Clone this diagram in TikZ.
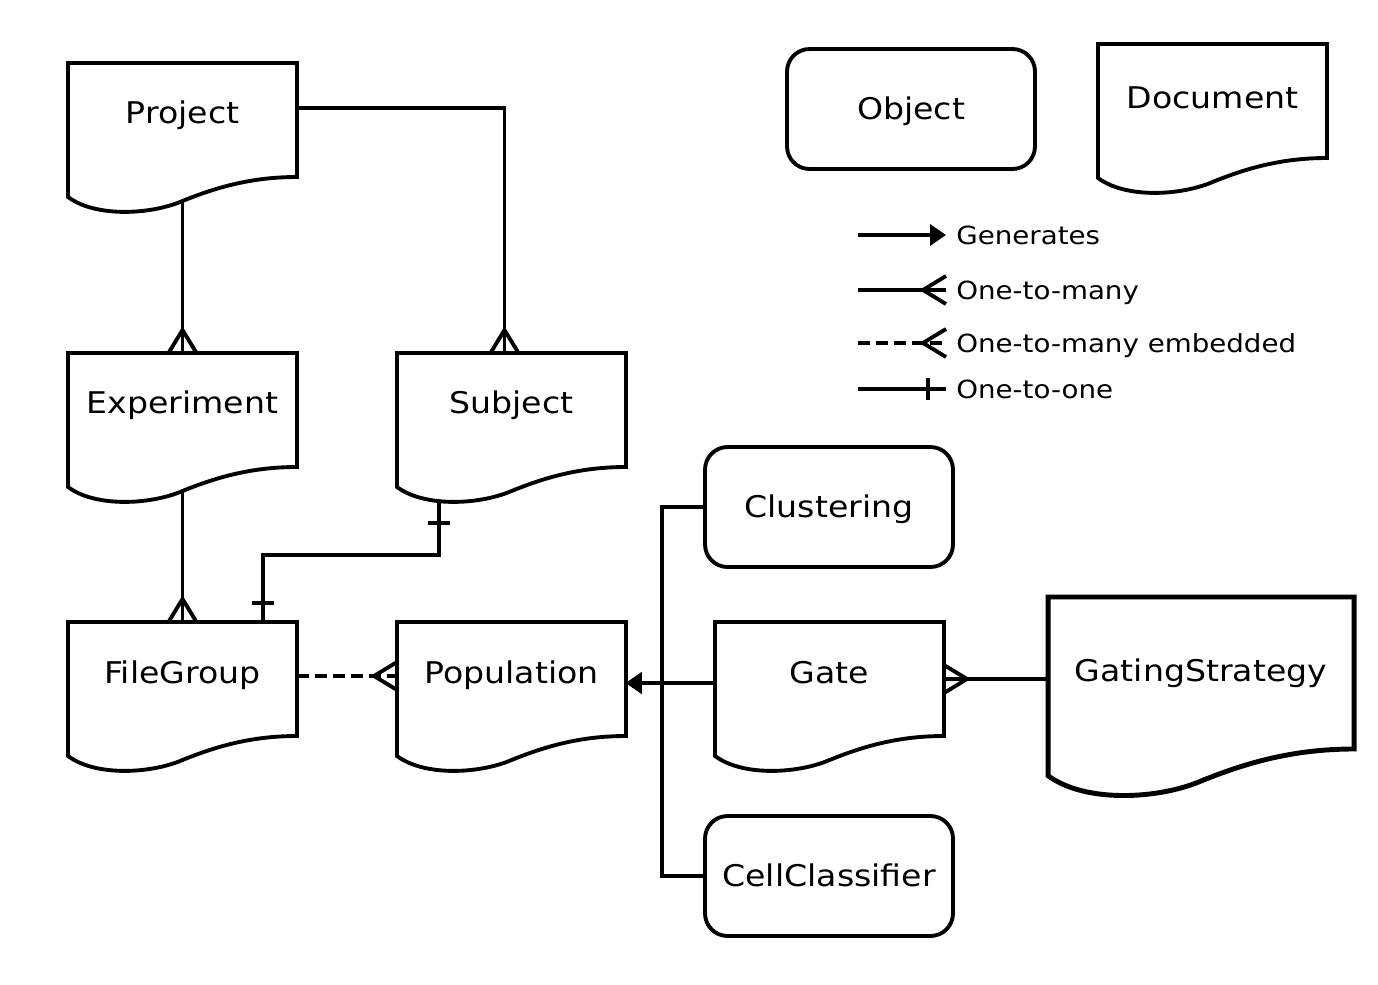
\documentclass[tikz,border=0pt]{standalone}
\usepackage{fontspec}
\setmainfont[FakeStretch=1.11]{DejaVu Sans}
\usetikzlibrary{arrows.meta}
\usetikzlibrary{decorations.markings}

\tikzset{
  box/.style={line width=2.2pt},
  doc/.style={anchor=north, inner sep=0pt, outer sep=0pt, minimum width=4.58cm,
    text height=1.22cm, text depth=1.54cm, font=\fontsize{17}{20}\selectfont},
  bigdoc/.style={doc, minimum width=6.12cm, text height=1.70cm, text depth=1.98cm},
  obj/.style={draw, line width=2.2pt, rounded corners=0.45cm, minimum width=4.96cm,
    minimum height=2.4cm, text height=0.43cm, text depth=0pt, inner sep=0pt,
    font=\fontsize{17}{20}\selectfont},
  keytext/.style={anchor=west, inner xsep=0.2cm, inner ysep=0pt, text height=0.36cm,
    text depth=0pt, font=\fontsize{14.2}{17}\selectfont},
  link/.style={line width=2.2pt},
  gen/.style={link, -{Triangle[length=0.32cm, width=0.42cm]}},
  many/.style={link, postaction={decorate, decoration={markings,
    mark=at position 1 with {\draw[solid, line width=2.2pt] (-23,0) -- (0,14) (-23,0) -- (0,-14);}}}},
  embed/.style={many, dash pattern=on 0.24cm off 0.12cm},
  one/.style={link, postaction={decorate, decoration={markings,
    mark=at position #1 with {\draw[solid, line width=2.2pt] (0,-11) -- (0,11);}}}},
}

% outline of a document: node name, width, height (px)
\newcommand{\docshape}[4][]{%
  \draw[box,#1,shift={(#2.north west)}] (0,0) -- (#3,0) -- (#3,0.826*#4)
    .. controls (0.795*#3,0.826*#4) and (0.64*#3,0.906*#4) .. (0.5*#3,#4)
    .. controls (0.36*#3,1.1*#4) and (0.12*#3,1.12*#4) .. (0,0.971*#4) -- cycle;}

\begin{document}
\begin{tikzpicture}[x=0.02cm,y=-0.02cm]
\useasboundingbox (0,0) rectangle (1378,984);

% documents
\node[doc] (proj) at (182.5,63) {Project};
\node[doc] (exp) at (182.5,353) {Experiment};
\node[doc] (subj) at (511.5,353) {Subject};
\node[doc] (fg) at (182.5,622) {FileGroup};
\node[doc] (pop) at (511.5,622) {Population};
\node[doc] (gate) at (829.5,622) {Gate};
\node[bigdoc] (gs) at (1201,597) {GatingStrategy};
\node[doc, text height=1.3cm, text depth=1.46cm] (docu) at (1212.5,44) {Document};
\docshape{proj}{229}{138}
\docshape{exp}{229}{138}
\docshape{subj}{229}{138}
\docshape{fg}{229}{138}
\docshape{pop}{229}{138}
\docshape{gate}{229}{138}
\docshape[line width=2.8pt]{gs}{306}{184}
\docshape{docu}{229}{138}

% objects
\node[obj] (object) at (911,109) {Object};
\node[obj] (clus) at (829,507) {Clustering};
\node[obj] (cell) at (829,876) {CellClassifier};

% relations
\draw[many] (proj.south) -- (exp.north);
\draw[many] ([yshift=0.32cm]proj.base east) -| ([xshift=-0.14cm]subj.north);
\draw[many] (exp.south) -- (fg.north);
\draw[link, one=0.44cm, one=-0.38cm] ([xshift=-1.45cm,yshift=-0.2cm]subj.south)
  -- ++(0,54) -| ([xshift=1.61cm]fg.north);
\draw[embed] ([yshift=0.14cm]fg.base east) -- ([yshift=0.14cm]pop.base west);
\draw[gen] (gate.base west) -- (pop.base east);
\draw[gen] (clus.west) -- ++(-41,0) |- (pop.base east);
\draw[gen] (cell.west) -- ++(-41,0) |- (pop.base east);
\draw[many] ([yshift=0.06cm]gs.base west) -- ([yshift=0.06cm]gs.base west -| gate.east);

% legend
\node[keytext] (kgen) at (946,235) {Generates};
\node[keytext] (kmany) at (946,290) {One-to-many};
\node[keytext] (kemb) at (946,343) {One-to-many embedded};
\node[keytext] (kone) at (946,389) {One-to-one};
\coordinate (sgen) at (858,235);
\coordinate (smany) at (858,290);
\coordinate (semb) at (858,343);
\coordinate (sone) at (858,389);
\draw[gen] (sgen) -- (kgen.west);
\draw[many] (smany) -- (kmany.west);
\draw[embed] (semb) -- (kemb.west);
\draw[one=-0.36cm] (sone) -- (kone.west);
\end{tikzpicture}
\end{document}
